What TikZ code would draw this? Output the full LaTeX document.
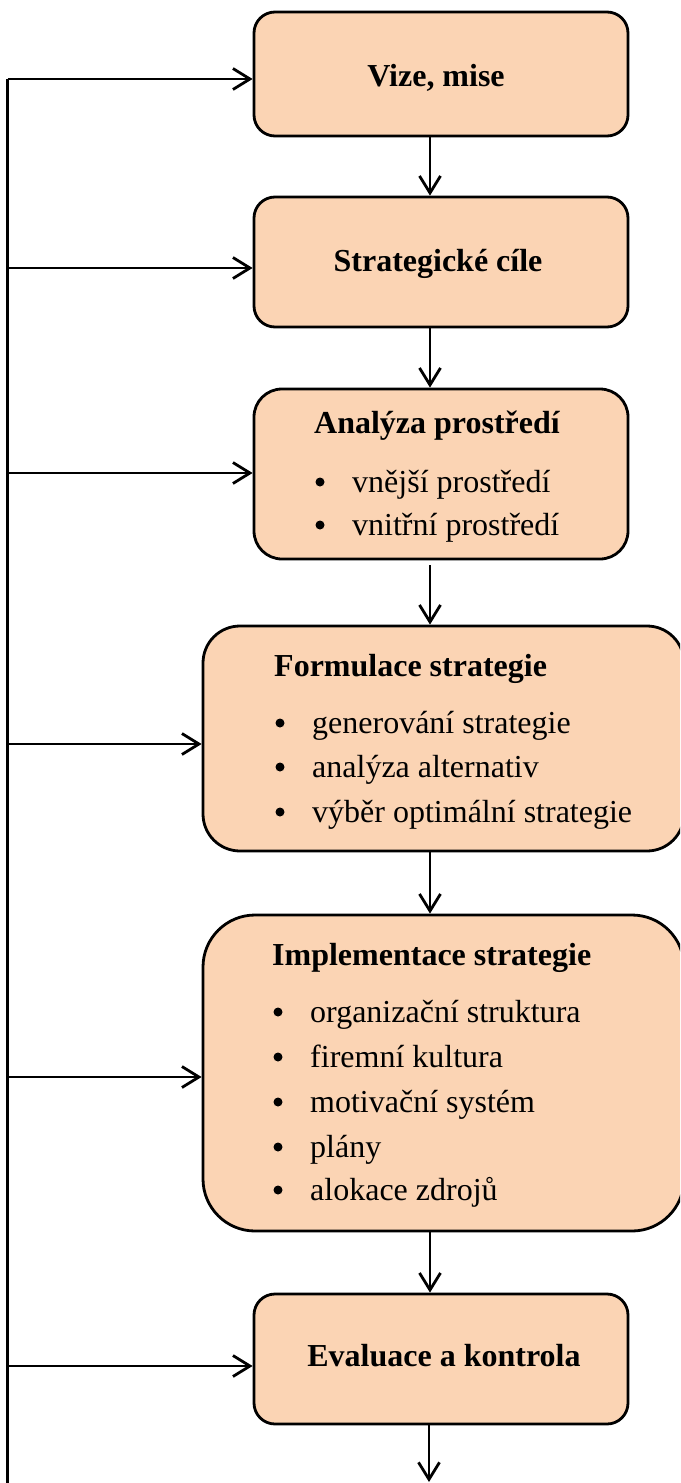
\documentclass[tikz,border=0pt]{standalone}
\usepackage{fontspec}
\setmainfont{Liberation Serif}
\usetikzlibrary{arrows.meta,calc}
\definecolor{peach}{HTML}{FBD4B4}
\tikzset{
  stage/.style={draw=black, line width=2.8pt, fill=peach, rounded corners=#1, inner sep=0pt},
  stage/.default=21pt,
  flow/.style={line width=2.8pt, -{Straight Barb[length=17pt, width=21pt, line width=2.8pt]}},
  spine/.style={line width=2.8pt},
  title/.style={font=\bfseries\fontsize{32}{40}\selectfont, inner sep=0pt, anchor=base},
  item/.style={font=\fontsize{32}{40}\selectfont, inner sep=0pt, anchor=base west},
  dot/.style={circle, fill=black, inner sep=0pt, minimum size=9pt},
}
% one bulleted line: name, bullet centre x, baseline y, text
\newcommand{\bulletitem}[4]{%
  \node[dot] (#1dot) at (#2,#3-10) {};
  \node[item] (#1) at (#2+32,#3) {#4};
}
\begin{document}
\begin{tikzpicture}[x=1pt,y=-1pt]
\useasboundingbox (0,0) rectangle (680,1483);
\clip (0,0) rectangle (680,1483);

% stage boxes
\node[stage, minimum width=374pt, minimum height=124pt] (b1) at (441,74) {};
\node[stage, minimum width=374pt, minimum height=130pt] (b2) at (441,262) {};
\node[stage=28pt, minimum width=374pt, minimum height=170pt] (b3) at (441,474) {};
\node[stage=37pt, minimum width=481pt, minimum height=225pt] (b4) at (443.5,738.5) {};
\node[stage=52pt, minimum width=481pt, minimum height=316pt] (b5) at (443.5,1073) {};
\node[stage, minimum width=374pt, minimum height=130pt] (b6) at (441,1359) {};

% box texts
\node[title] (t1) at (436,86) {Vize, mise};
\node[title] (t2) at (438,271) {Strategické cíle};
\node[title, anchor=base west] (t3) at (314,433) {Analýza prostředí};
\bulletitem{a1}{320}{492}{vnější prostředí}
\bulletitem{a2}{320}{535}{vnitřní prostředí}
\node[title, anchor=base west] (t4) at (274,676) {Formulace strategie};
\bulletitem{f1}{280}{733}{generování strategie}
\bulletitem{f2}{280}{777}{analýza alternativ}
\bulletitem{f3}{280}{822}{výběr optimální strategie}
\node[title, anchor=base west] (t5) at (272,965) {Implementace strategie};
\bulletitem{i1}{278}{1022}{organizační struktura}
\bulletitem{i2}{278}{1067}{firemní kultura}
\bulletitem{i3}{278}{1112}{motivační systém}
\bulletitem{i4}{278}{1157}{plány}
\bulletitem{i5}{278}{1200}{alokace zdrojů}
\node[title] (t6) at (444,1366) {Evaluace a kontrola};

% feedback spine on the left
\coordinate (s1) at (7.5,79);
\coordinate (s2) at (7.5,268);
\coordinate (s3) at (7.5,473);
\coordinate (s4) at (7.5,744);
\coordinate (s5) at (7.5,1077);
\coordinate (s6) at (7.5,1366);
\coordinate (sb) at (7.5,1490);
\draw[spine] (sb) -- (s1);
\draw[flow] (s1) -- (s1 -| b1.west);
\draw[flow] (s2) -- (s2 -| b2.west);
\draw[flow] (s3) -- (s3 -| b3.west);
\draw[flow] (s4) -- (s4 -| b4.west);
\draw[flow] (s5) -- (s5 -| b5.west);
\draw[flow] (s6) -- (s6 -| b6.west);

% main downward flow
\coordinate (cx) at (430,0);
\coordinate (out) at (429,1482);
\draw[flow] (b1.south -| cx) -- (b2.north -| cx);
\draw[flow] (b2.south -| cx) -- (b3.north -| cx);
\draw[flow] ($(b3.south -| cx)+(0,5)$) -- (b4.north -| cx);
\draw[flow] (b4.south -| cx) -- (b5.north -| cx);
\draw[flow] (b5.south -| cx) -- (b6.north -| cx);
\draw[flow] (b6.south -| out) -- (out);
\end{tikzpicture}
\end{document}
